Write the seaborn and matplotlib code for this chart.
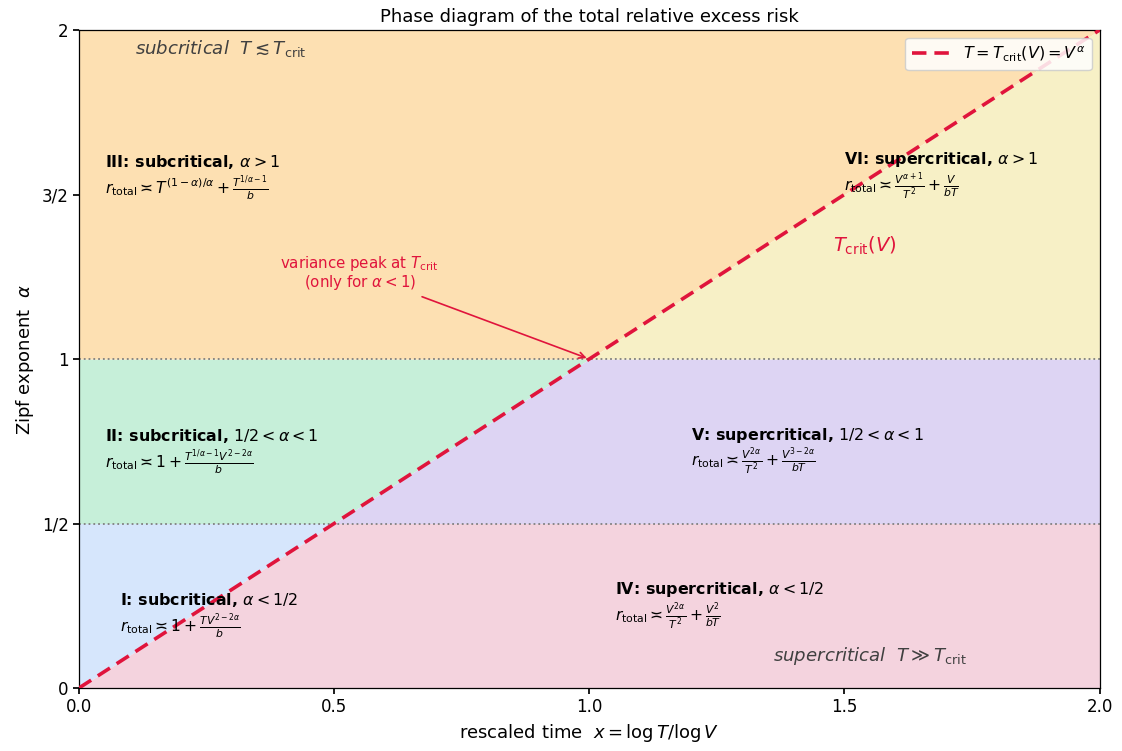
import numpy as np
import pandas as pd
import matplotlib
matplotlib.use("Agg")
import matplotlib.pyplot as plt
import seaborn as sns

# ---- data ----
x_range = [0.0, 2.0]
alpha_bounds = [0.0, 0.5, 1.0, 2.0]
crit_x = [0.0, 2.0]
crit_alpha = [0.0, 2.0]
sub_colors = ["#d6e6fc", "#c6efd9", "#fde0b2"]
sup_colors = ["#f4d3de", "#ddd4f3", "#f7f0c6"]

region_titles = [
    r"I: subcritical, $\alpha<1/2$",
    r"II: subcritical, $1/2<\alpha<1$",
    r"III: subcritical, $\alpha>1$",
    r"IV: supercritical, $\alpha<1/2$",
    r"V: supercritical, $1/2<\alpha<1$",
    r"VI: supercritical, $\alpha>1$",
]
region_formulas = [
    r"$r_{\rm total}\asymp 1+\frac{TV^{2-2\alpha}}{b}$",
    r"$r_{\rm total}\asymp 1+\frac{T^{1/\alpha-1}V^{2-2\alpha}}{b}$",
    r"$r_{\rm total}\asymp T^{(1-\alpha)/\alpha}+\frac{T^{1/\alpha-1}}{b}$",
    r"$r_{\rm total}\asymp \frac{V^{2\alpha}}{T^2}+\frac{V^2}{bT}$",
    r"$r_{\rm total}\asymp \frac{V^{2\alpha}}{T^2}+\frac{V^{3-2\alpha}}{bT}$",
    r"$r_{\rm total}\asymp \frac{V^{\alpha+1}}{T^2}+\frac{V}{bT}$",
]
label_x = [0.08, 0.05, 0.05, 1.05, 1.20, 1.50]
label_y = [0.267, 0.766, 1.60, 0.298, 0.769, 1.605]

sns.set_theme(style="white")
plt.rcParams['font.family'] = ['DejaVu Sans']
plt.rcParams['mathtext.fontset'] = 'dejavusans'
for k in ['text.color', 'axes.labelcolor', 'xtick.color', 'ytick.color', 'axes.edgecolor']:
    plt.rcParams[k] = 'black'

fig = plt.figure(figsize=(11.22, 7.51), dpi=100)
ax = fig.add_axes([0.0704, 0.0839, 0.9096, 0.8761])

xs = np.linspace(x_range[0], x_range[1], 401)
for i in range(3):
    lo, hi = alpha_bounds[i], alpha_bounds[i + 1]
    # subcritical: x < alpha  (above the line)
    ax.fill_between(xs, np.clip(xs, lo, hi), hi, color=sub_colors[i], lw=0, zorder=0)
    # supercritical: x > alpha (below the line)
    ax.fill_between(xs, lo, np.clip(xs, lo, hi), color=sup_colors[i], lw=0, zorder=0)

for a in alpha_bounds[1:3]:
    ax.axhline(a, color="gray", ls=":", lw=1.3, zorder=1)

df = pd.DataFrame({"x": crit_x, "alpha": crit_alpha})
sns.lineplot(data=df, x="x", y="alpha", ax=ax, color="#e0143c", lw=2.6,
             linestyle=(0, (4, 2.2)), label=r"$T=T_{\rm crit}(V)=V^{\alpha}$", zorder=3)

for t, f, lx, ly in zip(region_titles, region_formulas, label_x, label_y):
    ax.text(lx, ly, t, fontsize=11.4, fontweight="bold", va="center", ha="left", zorder=4)
    ax.text(lx, ly - 0.08, f, fontsize=11.2, va="center", ha="left", zorder=4)

ax.text(0.11, 1.945, r"$\it{subcritical}$  $T\lesssim T_{\rm crit}$", fontsize=13.1,
        color="#404040", va="center", ha="left")
ax.text(1.36, 0.097, r"$\it{supercritical}$  $T\gg T_{\rm crit}$", fontsize=13.1,
        color="#404040", va="center", ha="left")
ax.text(1.54, 1.343, r"$T_{\rm crit}(V)$", fontsize=14, color="#e0143c", va="center", ha="center")

ax.annotate("variance peak at $T_{\\rm crit}$\n(only for $\\alpha<1$)",
            xy=(1.0, 1.0), xytext=(0.55, 1.26), fontsize=10.8, color="#e0143c",
            ha="center", va="center", linespacing=1.0,
            arrowprops=dict(arrowstyle="->", color="#e0143c", lw=1.2))

ax.set_xlim(0, 2)
ax.set_ylim(0, 2)
ax.set_xticks([0.0, 0.5, 1.0, 1.5, 2.0])
ax.set_xticklabels(["0.0", "0.5", "1.0", "1.5", "2.0"])
ax.set_yticks([0, 0.5, 1, 1.5, 2])
ax.set_yticklabels(["0", "1/2", "1", "3/2", "2"])
ax.tick_params(axis="both", labelsize=12, length=4, left=True, bottom=True, color="black")
for s in ax.spines.values():
    s.set_color("black")
    s.set_linewidth(0.9)
ax.set_xlabel(r"rescaled time  $x=\log T/\log V$", fontsize=13)
ax.set_ylabel(r"Zipf exponent  $\alpha$", fontsize=13)
ax.set_title("Phase diagram of the total relative excess risk", fontsize=13)
leg = ax.legend(loc="upper right", fontsize=11.5, frameon=True, handlelength=2.4)
leg.get_frame().set_facecolor("white")
leg.get_frame().set_alpha(0.85)

fig.savefig("out.png", dpi=100)
